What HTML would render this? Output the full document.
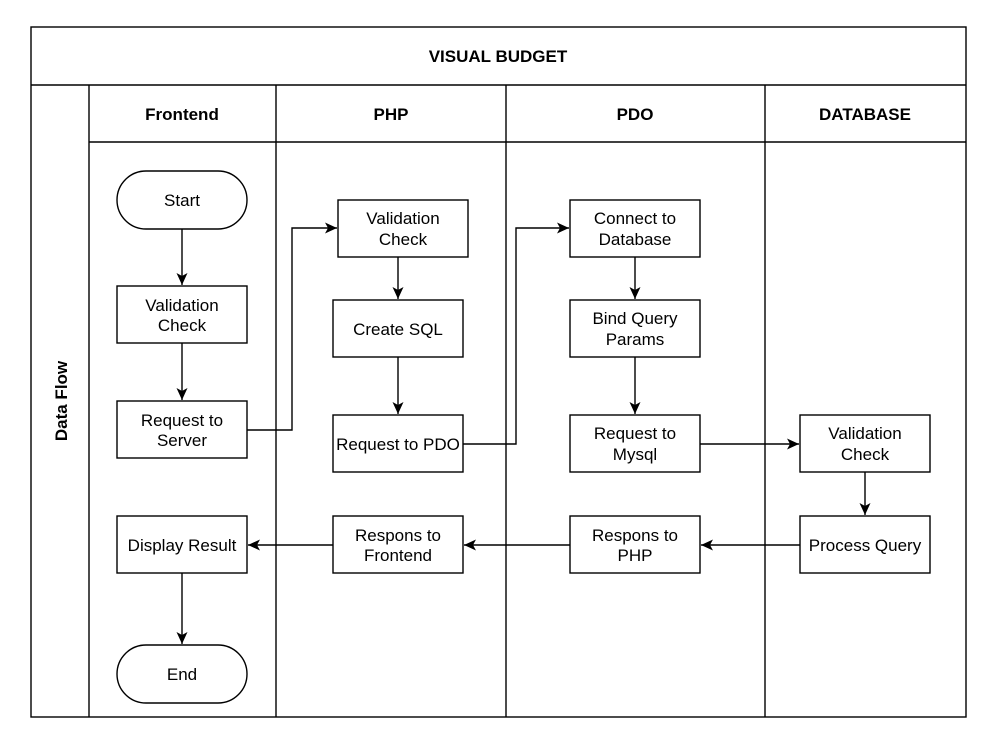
<!DOCTYPE html>
<html><head><meta charset="utf-8"><style>body{margin:0;background:#fff}svg{display:block}</style></head><body>
<svg width="997" height="751" viewBox="0 0 997 751" xmlns="http://www.w3.org/2000/svg" font-family="Liberation Sans, Arial, sans-serif">
<defs><marker id="a" markerWidth="14" markerHeight="14" refX="12" refY="6" orient="auto" markerUnits="userSpaceOnUse"><path d="M0,0.5 L12,6 L0,11.5 L3,6 Z" fill="#000"/></marker></defs>
<rect width="997" height="751" fill="#fff"/>
<g fill="none" stroke="#000" stroke-width="1.4">
<rect x="31" y="27" width="935" height="690"/>
<line x1="31" y1="85" x2="966" y2="85"/>
<line x1="89" y1="85" x2="89" y2="717"/>
<line x1="89" y1="142" x2="966" y2="142"/>
<line x1="276" y1="85" x2="276" y2="717"/>
<line x1="506" y1="85" x2="506" y2="717"/>
<line x1="765" y1="85" x2="765" y2="717"/>
<rect x="117" y="171" width="130" height="58" rx="29"/>
<rect x="117" y="286" width="130" height="57"/>
<rect x="117" y="401" width="130" height="57"/>
<rect x="117" y="516" width="130" height="57"/>
<rect x="117" y="645" width="130" height="58" rx="29"/>
<rect x="338" y="200" width="130" height="57"/>
<rect x="333" y="300" width="130" height="57"/>
<rect x="333" y="415" width="130" height="57"/>
<rect x="333" y="516" width="130" height="57"/>
<rect x="570" y="200" width="130" height="57"/>
<rect x="570" y="300" width="130" height="57"/>
<rect x="570" y="415" width="130" height="57"/>
<rect x="570" y="516" width="130" height="57"/>
<rect x="800" y="415" width="130" height="57"/>
<rect x="800" y="516" width="130" height="57"/>
</g>
<g fill="none" stroke="#000" stroke-width="1.4" marker-end="url(#a)">
<path d="M182,229V285"/>
<path d="M182,343V400"/>
<path d="M247,430H292V228H337"/>
<path d="M398,257V299"/>
<path d="M398,357V414"/>
<path d="M463,444H516V228H569"/>
<path d="M635,257V299"/>
<path d="M635,357V414"/>
<path d="M700,444H799"/>
<path d="M865,472V515"/>
<path d="M800,545H701"/>
<path d="M570,545H464"/>
<path d="M333,545H248"/>
<path d="M182,573V644"/>
</g>
<g font-size="17" font-weight="bold" text-anchor="middle">
<text x="498" y="62">VISUAL BUDGET</text>
<text x="182" y="120">Frontend</text>
<text x="391" y="120">PHP</text>
<text x="635" y="120">PDO</text>
<text x="865" y="120">DATABASE</text>
<text transform="translate(67,401) rotate(-90)">Data Flow</text>
</g>
<g font-size="17" text-anchor="middle">
<text x="182" y="206">Start</text>
<text x="182" y="311">Validation</text><text x="182" y="331">Check</text>
<text x="182" y="426">Request to</text><text x="182" y="446">Server</text>
<text x="182" y="551">Display Result</text>
<text x="182" y="680">End</text>
<text x="403" y="224">Validation</text><text x="403" y="245">Check</text>
<text x="398" y="335">Create SQL</text>
<text x="398" y="450">Request to PDO</text>
<text x="398" y="541">Respons to</text><text x="398" y="561">Frontend</text>
<text x="635" y="224">Connect to</text><text x="635" y="245">Database</text>
<text x="635" y="324">Bind Query</text><text x="635" y="345">Params</text>
<text x="635" y="439">Request to</text><text x="635" y="460">Mysql</text>
<text x="635" y="541">Respons to</text><text x="635" y="561">PHP</text>
<text x="865" y="439">Validation</text><text x="865" y="460">Check</text>
<text x="865" y="551">Process Query</text>
</g>
</svg>
</body></html>
